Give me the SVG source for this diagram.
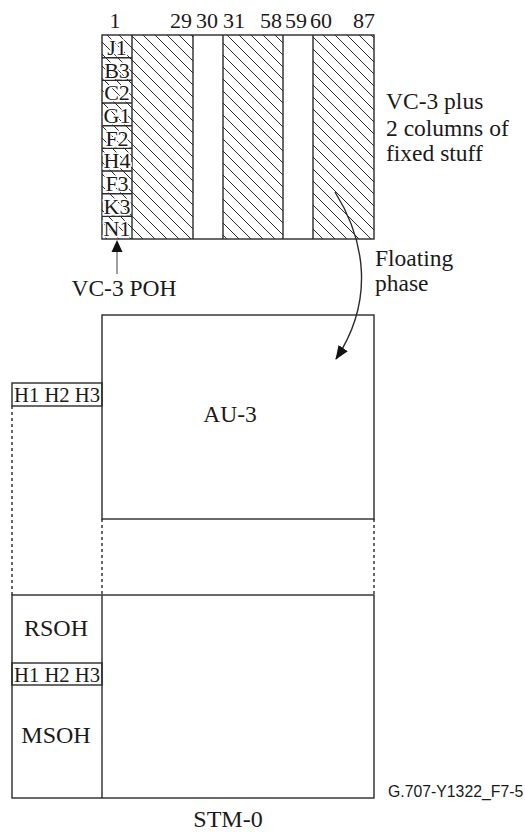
<svg xmlns="http://www.w3.org/2000/svg" width="525" height="832" viewBox="0 0 525 832">
<style>
.t{font-family:"Liberation Serif","Times New Roman",serif;fill:#1a1a1a;}
.s{font-family:"Liberation Sans",Arial,sans-serif;fill:#1a1a1a;}
.b{fill:none;stroke:#2a2a2a;stroke-width:1.4;}
.d{fill:none;stroke:#2a2a2a;stroke-width:1.4;stroke-dasharray:3 3;}
.h{paint-order:stroke;stroke:#fff;stroke-width:3;}
</style>
<defs>
<pattern id="hatch" patternUnits="userSpaceOnUse" width="12" height="12">
<path d="M-3,-3 L15,15 M-3,9 L3,15 M9,-3 L15,3" stroke="#2a2a2a" stroke-width="1"/>
</pattern>
<marker id="ah" viewBox="0 0 14 11" refX="13" refY="5.5" markerWidth="14" markerHeight="11" markerUnits="userSpaceOnUse" orient="auto">
<path d="M0,0 L14,5.5 L0,11 Z" fill="#111"/>
</marker>
</defs>

<g id="vc3">
<rect x="102" y="35" width="91" height="204" fill="url(#hatch)"/>
<rect x="223" y="35" width="60" height="204" fill="url(#hatch)"/>
<rect x="313" y="35" width="61" height="204" fill="url(#hatch)"/>
<rect x="102" y="35" width="272" height="204" class="b"/>
<path class="b" d="M132,35 V239 M193,35 V239 M223,35 V239 M283,35 V239 M313,35 V239"/>
<path class="b" d="M102,57.7 H132 M102,80.3 H132 M102,103 H132 M102,125.7 H132 M102,148.3 H132 M102,171 H132 M102,193.7 H132 M102,216.3 H132"/>
<g class="t h" font-size="22" text-anchor="middle">
<text x="117" y="55">J1</text>
<text x="117" y="77.7">B3</text>
<text x="117" y="100.3">C2</text>
<text x="117" y="123">G1</text>
<text x="117" y="145.7">F2</text>
<text x="117" y="168.3">H4</text>
<text x="117" y="191">F3</text>
<text x="117" y="213.7">K3</text>
<text x="117" y="236.3">N1</text>
</g>
<g class="t" font-size="22">
<text x="115" y="28" text-anchor="middle">1</text>
<text x="192" y="28" text-anchor="end">29</text>
<text x="196" y="28">30</text>
<text x="223" y="28">31</text>
<text x="282" y="28" text-anchor="end">58</text>
<text x="285" y="28">59</text>
<text x="310" y="28">60</text>
<text x="375" y="28" text-anchor="end">87</text>
</g>
</g>

<g id="vc3-label" class="t" font-size="23.5">
<text x="386" y="109">VC-3 plus</text>
<text x="386" y="136">2 columns of</text>
<text x="386" y="161">fixed stuff</text>
</g>

<g id="poh-label">
<text class="t" font-size="23.5" x="124" y="296" text-anchor="middle">VC-3 POH</text>
</g>

<g id="floating-label" class="t" font-size="23.5">
<text x="375" y="266">Floating</text>
<text x="375" y="291">phase</text>
</g>

<g id="au3">
<rect x="102" y="315" width="272" height="204" class="b"/>
<text class="t" font-size="23.5" x="230" y="422" text-anchor="middle">AU-3</text>
</g>

<g id="au3-ptr">
<rect x="12" y="383" width="90" height="23" class="b"/>
<text class="t" font-size="22" x="14" y="402" textLength="86" lengthAdjust="spacingAndGlyphs">H1 H2 H3</text>
</g>

<g id="stm0">
<rect x="12" y="595" width="362" height="203" class="b"/>
<path class="b" d="M102,595 V798"/>
<rect x="12" y="663" width="90" height="22" class="b"/>
<text class="t" font-size="24" x="56" y="636" text-anchor="middle">RSOH</text>
<text class="t" font-size="22" x="14" y="681.5" textLength="86" lengthAdjust="spacingAndGlyphs">H1 H2 H3</text>
<text class="t" font-size="24" x="56" y="743" text-anchor="middle">MSOH</text>
<text class="t" font-size="24" x="228" y="827" text-anchor="middle">STM-0</text>
</g>

<g id="figure-id">
<text class="s" font-size="15.8" x="388" y="797">G.707-Y1322_F7-5</text>
</g>

<g id="connectors">
<path d="M117,274 V252" stroke="#777" stroke-width="1.4" fill="none"/>
<path d="M117,240 L111.5,252 L122.5,252 Z" fill="#111"/>
<path d="M335,192 C365,240 375,300 336,359" class="b" stroke-width="1.2" marker-end="url(#ah)"/>
<path class="d" d="M12,406 V595 M102,519 V595 M374,519 V595"/>
</g>
</svg>
